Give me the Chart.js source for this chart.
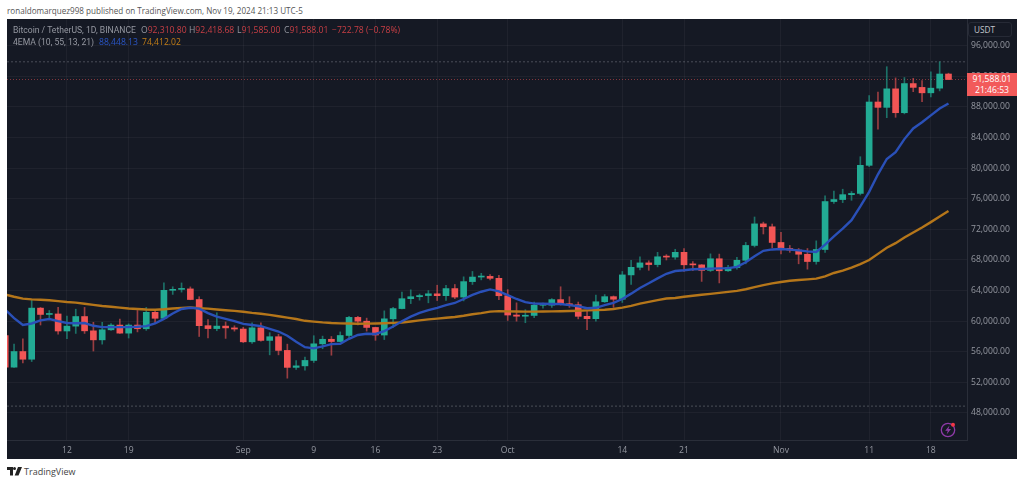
<!DOCTYPE html>
<html>
<head>
<meta charset="utf-8">
<title>BTCUSDT 1D</title>
<script src="https://cdn.jsdelivr.net/npm/chart.js@4/dist/chart.umd.min.js"></script>
<style>
  html, body { margin: 0; padding: 0; background: #fff; width: 1024px; height: 484px; overflow: hidden; }
  body { font-family: "Open Sans", sans-serif; position: relative; }
  .abs { position: absolute; white-space: nowrap; line-height: 1; }
  #byline { left: 7px; top: 7px; font-size: 8.1px; color: #555; }
  #panel { position: absolute; left: 7px; top: 19px; width: 1010px; height: 440px; background: #151924; }
  #panel canvas { position: absolute; left: 0; top: 0; }
  .lg { font-size: 8.6px; color: #9598a1; }
  .nm { font-family: Roboto, sans-serif; }
  .red { color: #c93f45; }
  .blue { color: #2a56c6; }
  .orange { color: #c47f17; }
  #unit { left: 961px; top: 3px; width: 44px; height: 15px; box-sizing: border-box; border: 1px solid #262a36; border-radius: 3px; font-size: 8.2px; color: #c4c6cc; padding: 3px 0 0 5px; background: #151924; }
  #last { left: 960px; top: 54px; width: 50px; height: 23px; background: #f25a5a; color: #fff; font-size: 8.6px; text-align: center; line-height: 11px; padding-top: 1px; box-sizing: border-box; }
  #spark { position: absolute; left: 934px; top: 416px; }
  #logo { position: absolute; left: 7px; top: 467px; }
  #brand { left: 24px; top: 467px; font-size: 9px; color: #444; }
</style>
</head>
<body>
<div id="byline" class="abs">ronaldomarquez998 published on TradingView.com, Nov 19, 2024 21:13 UTC-5</div>
<div id="panel">
  <canvas id="chart" width="1010" height="440"></canvas>
  <div class="abs lg nm" style="left:6px;top:7px">Bitcoin / TetherUS, 1D, BINANCE</div>
  <div class="abs lg" style="left:134px;top:7px">O<span class="red">92,310.80</span></div>
  <div class="abs lg" style="left:182px;top:7px">H<span class="red">92,418.68</span></div>
  <div class="abs lg" style="left:230px;top:7px">L<span class="red">91,585.00</span></div>
  <div class="abs lg" style="left:277px;top:7px">C<span class="red">91,588.01</span></div>
  <div class="abs lg red" style="left:325px;top:7px">&minus;722.78 (&minus;0.78%)</div>
  <div class="abs lg nm" style="left:6px;top:19px">4EMA (10, 55, 13, 21)</div>
  <div class="abs lg blue" style="left:92px;top:19px">88,448.13</div>
  <div class="abs lg orange" style="left:135px;top:19px">74,412.02</div>
  <div id="unit" class="abs">USDT</div>
  <div id="last" class="abs">91,588.01<br>21:46:53</div>
</div>
<svg id="spark" width="28" height="28" viewBox="0 0 28 28">
  <circle cx="14" cy="14" r="6.7" fill="none" stroke="#8e3aa8" stroke-width="1.3"/>
  <path d="M15.5 9.5 L11.2 14.8 H13.8 L12.6 18.5 L17 13 H14.4 Z" fill="#8e3aa8"/>
  <circle cx="19" cy="8.8" r="2" fill="#f23645"/>
</svg>
<svg id="logo" width="15" height="9" viewBox="0 0 15 9">
  <path d="M0 0 H6 V8.5 H3 V3 H0 Z M7.5 3 A1.4 1.4 0 1 1 7.5 0 A1.4 1.4 0 1 1 7.5 3 Z M11 0 H15 L11.5 8.5 H7.7 Z" fill="#222"/>
</svg>
<div id="brand" class="abs">TradingView</div>

<script>
// Candles, Aug 5 to Nov 20 2024
const opens = [
  58110, 53991, 56034, 55027, 61710, 60880, 60945, 58719, 59354, 60609, 58739, 57560, 58874, 59494, 58438, 59493, 59012, 61159, 60380, 64037, 64157, 64220, 62834, 59415, 59034, 59359, 59123,
  58973, 57301, 59132, 57487, 57970, 56180, 53962, 54160, 54869, 57042, 57635, 57340, 58132, 60498, 60000, 59182, 58192, 60309, 61649, 62940, 63200, 63350, 63578, 63339, 64262, 63152, 65173, 65769, 65858, 65602,
  63327, 60805, 60650, 60750, 62080, 62090, 62820, 62225, 62150, 60636, 60327, 62540, 63206, 62870, 66050, 67040, 67620, 67400, 68420, 68380, 69000, 67370, 67360, 66640, 68160, 66590, 67010, 67960, 69900, 72720, 72340,
  70290, 69500, 69300, 68750, 67800, 69370, 75640, 75900, 76540, 76700, 80370, 88650, 87950, 90370, 87250, 91060, 90560, 89850, 90460, 92310
]
const highs = [
  58300, 57000, 57700, 62745, 61800, 61400, 61800, 60680, 61570, 61800, 59850, 59850, 59700, 60280, 59650, 61400, 61800, 61400, 65000, 64500, 65000, 64480, 63200, 60200, 61100, 59900, 59400,
  59200, 59800, 59800, 58500, 58300, 57000, 54850, 55300, 58100, 58050, 58000, 58600, 60650, 60650, 60400, 59210, 61350, 61800, 63800, 64100, 63550, 64000, 64700, 64700, 64800, 65800, 66500, 66260, 66100, 66000,
  64130, 62400, 61500, 62500, 62370, 62950, 64500, 63200, 62500, 61300, 63400, 63480, 63300, 66500, 67950, 68400, 67900, 69000, 68700, 69400, 69500, 67800, 67400, 68800, 68770, 67300, 68350, 70300, 73620, 72950, 72700,
  71600, 69900, 69500, 69500, 70500, 76400, 77000, 77250, 76950, 81500, 89500, 89950, 93265, 91800, 91850, 91750, 91450, 92600, 93905, 92418
]
const lows = [
  49000, 53960, 54558, 54727, 59500, 60300, 58300, 57700, 58400, 58400, 56100, 57000, 58785, 58400, 57800, 58600, 58800, 59700, 60350, 63500, 63800, 62800, 58000, 57800, 58750, 57750, 58700,
  57200, 57100, 57400, 55600, 55600, 52550, 53700, 53600, 54600, 56400, 55550, 57300, 57600, 59500, 58700, 57500, 57600, 59200, 61600, 62300, 62750, 62400, 62700, 62700, 62950, 62650, 64800, 65400, 65400, 62800,
  60100, 60000, 59800, 60450, 61700, 61800, 62100, 61800, 60300, 58900, 60000, 62450, 61800, 62450, 64800, 66700, 66650, 67100, 68000, 68100, 66500, 66600, 65200, 66500, 65000, 66500, 66800, 67500, 69700, 71400, 69600,
  68800, 69000, 67500, 66800, 67450, 69000, 75400, 75500, 75800, 76500, 80200, 85100, 86600, 86650, 87100, 90000, 88700, 89300, 90100, 91585
]
const closes = [
  53991, 56034, 55027, 61710, 60880, 60945, 58719, 59354, 60609, 58739, 57560, 58874, 59494, 58438, 59493, 59012, 61159, 60380, 64037, 64157, 64220, 62834, 59415, 59034, 59359, 59123, 58973,
  57301, 59132, 57487, 57970, 56180, 53962, 54160, 54869, 57042, 57635, 57340, 58132, 60498, 60000, 59182, 58192, 60309, 61649, 62940, 63200, 63350, 63578, 63339, 64262, 63152, 65173, 65769, 65858, 65602, 63327,
  60805, 60650, 60750, 62080, 62090, 62820, 62225, 62150, 60636, 60327, 62540, 63206, 62870, 66050, 67040, 67620, 67400, 68420, 68380, 69000, 67370, 67360, 66640, 68160, 66590, 67010, 67960, 69900, 72720, 72340, 70290,
  69500, 69300, 68750, 67800, 69370, 75640, 75900, 76540, 76700, 80370, 88650, 87950, 90370, 87250, 91060, 90560, 89850, 90460, 92310, 91588
]

// EMA lines
const emaBlue = [
  61500, 60400, 59500, 59700, 60100, 60280, 60000, 59760, 59740, 59760, 59400, 59220, 59220, 59230, 59240, 59280, 59350, 59700, 60300, 61000, 61600, 61750, 61650, 61050, 60600, 60300, 60000,
  59640, 59500, 59350, 59000, 58650, 58100, 57300, 56600, 56450, 56700, 57000, 57050, 57700, 58200, 58350, 58330, 58700, 59300, 60000, 60600, 61100, 61450, 61750, 62100, 62380, 62900, 63450, 63850, 64150, 63900,
  63400, 62900, 62500, 62300, 62280, 62250, 62250, 62100, 61950, 61700, 61750, 62100, 62400, 62900, 63600, 64340, 64950, 65600, 66200, 66560, 66650, 66780, 66830, 66870, 66900, 66930, 67100, 67700, 68500, 69200, 69380,
  69430, 69350, 69250, 69120, 69040, 70000, 71100, 72100, 73200, 75000, 76900, 79200, 81200, 82100, 83800, 85200, 86000, 86900, 87800, 88448
]
const emaOrange = [
  63480, 63200, 62950, 62850, 62800, 62730, 62620, 62500, 62420, 62280, 62130, 61980, 61880, 61770, 61650, 61590, 61520, 61500, 61560, 61650, 61730, 61780, 61700, 61640, 61530, 61430, 61350,
  61240, 61090, 60980, 60830, 60650, 60470, 60280, 60050, 59950, 59840, 59760, 59720, 59690, 59670, 59680, 59700, 59730, 59780, 59830, 59960, 60110, 60240, 60340, 60450, 60550, 60710, 60910, 61060, 61250, 61320,
  61280, 61260, 61250, 61250, 61270, 61280, 61300, 61330, 61370, 61410, 61440, 61490, 61600, 61770, 62000, 62300, 62530, 62760, 62960, 63030, 63190, 63330, 63450, 63570, 63700, 63830, 63960, 64170, 64460, 64710, 64940,
  65130, 65280, 65380, 65470, 65560, 65850, 66300, 66620, 67000, 67450, 68000, 68800, 69600, 70200, 70950, 71600, 72250, 72950, 73680, 74412
]

const priceTicks = [48000, 52000, 56000, 60000, 64000, 68000, 72000, 76000, 80000, 84000, 88000, 92000, 96000]
const dayTicks = [7, 14, 27, 35, 42, 49, 57, 70, 77, 88, 98, 105]
const dayLabels = ['12', '19', 'Sep', '9', '16', '23', 'Oct', '14', '21', 'Nov', '11', '18']

const lastPrice = 91588
const rangeHigh = 93905
const rangeLow = 48900

const upColor = '#22ab94'
const downColor = '#f25555'
const upWick = 'rgba(34,171,148,0.6)'
const downWick = 'rgba(242,85,85,0.6)'

const xMin = 0.2
const xMax = 109.1
const xy = (vals) => vals.map((v, i) => ({ x: i, y: v }))
const hLine = (v) => [{ x: xMin, y: v }, { x: xMax, y: v }]
const isUp = closes.map((c, i) => c >= opens[i])
const fontFam = '"Open Sans", sans-serif'

new Chart(document.getElementById('chart'), {
  type: 'bar',
  data: {
    datasets: [
      { type: 'line', data: hLine(rangeHigh), borderColor: 'rgba(200,203,210,0.3)', borderWidth: 1, borderDash: [2, 2], pointRadius: 0, order: 6 },
      { type: 'line', data: hLine(rangeLow), borderColor: 'rgba(200,203,210,0.3)', borderWidth: 1, borderDash: [2, 2], pointRadius: 0, order: 6 },
      { type: 'line', data: hLine(lastPrice), borderColor: 'rgba(242,85,85,0.5)', borderWidth: 1, borderDash: [1, 2], pointRadius: 0, order: 6 },
      {
        data: highs.map((h, i) => ({ x: i, y: [lows[i], h] })),
        backgroundColor: isUp.map(u => u ? upWick : downWick),
        barThickness: 1,
        grouped: false,
        order: 5
      },
      {
        data: closes.map((c, i) => ({ x: i, y: [opens[i], c] })),
        backgroundColor: isUp.map(u => u ? upColor : downColor),
        barThickness: 6,
        minBarLength: 1,
        grouped: false,
        order: 4
      },
      { type: 'line', data: xy(emaOrange), borderColor: '#b5761a', borderWidth: 2.4, pointRadius: 0, tension: 0, order: 2 },
      { type: 'line', data: xy(emaBlue), borderColor: '#2a50b8', borderWidth: 2.4, pointRadius: 0, tension: 0, order: 1 }
    ]
  },
  options: {
    responsive: false,
    animation: false,
    layout: { padding: 0 },
    plugins: { legend: { display: false }, tooltip: { enabled: false } },
    scales: {
      x: {
        type: 'linear',
        offset: false,
        min: xMin,
        max: xMax,
        afterBuildTicks: (axis) => { axis.ticks = dayTicks.map(v => ({ value: v })) },
        afterFit: (axis) => { axis.height = 19; axis.paddingLeft = 0; axis.paddingRight = 0 },
        grid: { color: 'rgba(255,255,255,0.045)', drawTicks: false, offset: false },
        border: { color: '#2a2e39' },
        ticks: {
          color: '#9598a1',
          font: { family: fontFam, size: 8.6 },
          padding: 5,
          maxRotation: 0,
          autoSkip: false,
          callback: (v) => dayLabels[dayTicks.indexOf(v)]
        }
      },
      y: {
        position: 'right',
        min: 44470,
        max: 99500,
        afterBuildTicks: (axis) => { axis.ticks = priceTicks.map(v => ({ value: v })) },
        afterFit: (axis) => { axis.width = 50; axis.paddingTop = 0; axis.paddingBottom = 0 },
        grid: { color: 'rgba(255,255,255,0.045)', drawTicks: false },
        border: { color: '#2a2e39' },
        ticks: {
          color: '#9598a1',
          font: { family: fontFam, size: 8.6 },
          padding: 4,
          callback: (v) => v.toLocaleString('en-US', { minimumFractionDigits: 2 })
        }
      }
    }
  }
})
</script>
</body>
</html>
